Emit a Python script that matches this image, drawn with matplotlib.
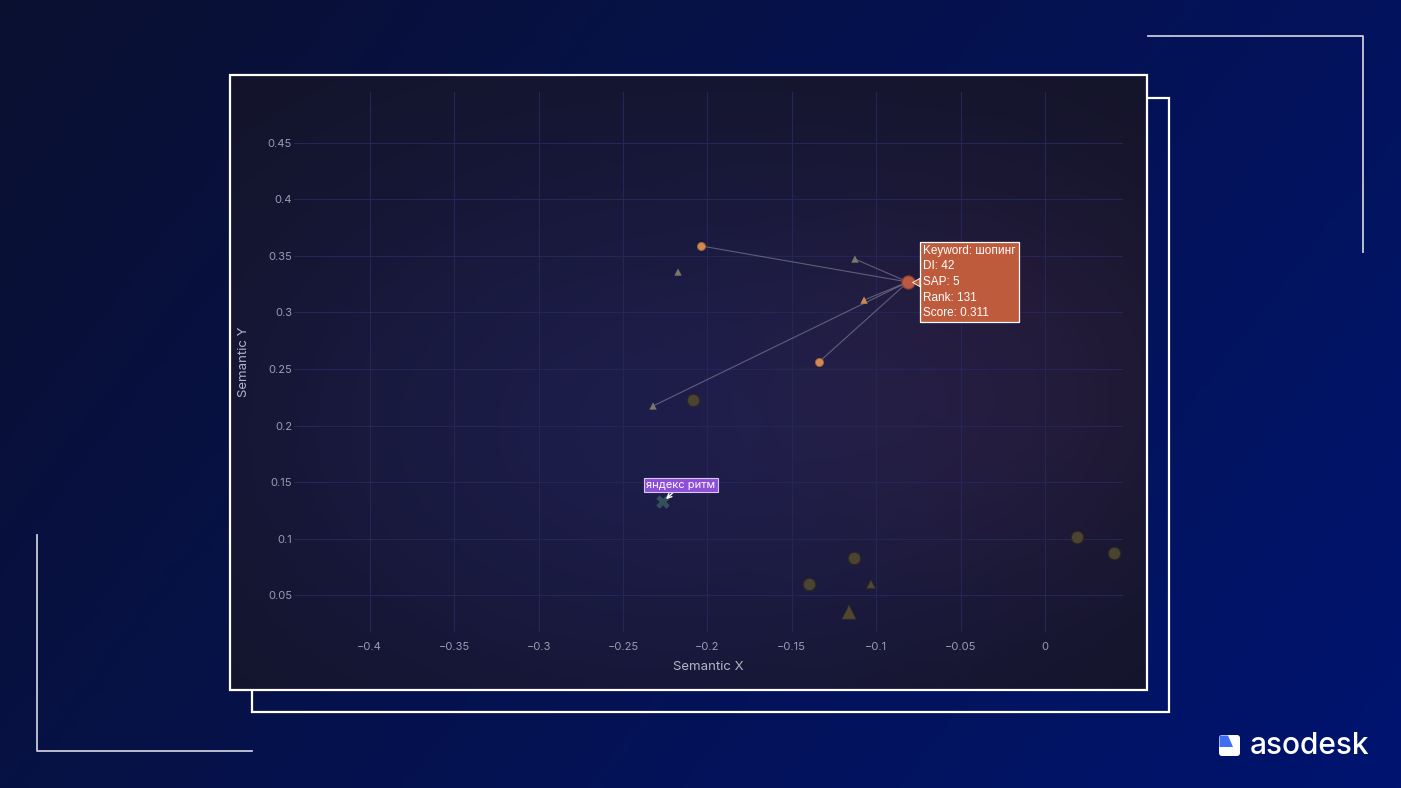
import numpy as np
import matplotlib.pyplot as plt
from matplotlib.patches import Rectangle, FancyBboxPatch, Polygon
from matplotlib.ticker import FuncFormatter
from matplotlib.transforms import ScaledTranslation

# highlighted keyword
main_x, main_y = -0.0812, 0.327
tooltip_lines = ["Keyword: шопинг", "DI: 42", "SAP: 5", "Rank: 131", "Score: 0.311"]

# keywords linked to the highlighted one
orange_circ_x = [-0.2038, -0.1339]
orange_circ_y = [0.3589, 0.2562]
orange_tri_x = [-0.1072]
orange_tri_y = [0.311]
grey_tri_x = [-0.2174, -0.1126, -0.2322]
grey_tri_y = [0.3358, 0.3473, 0.2173]
linked_x = [-0.2038, -0.1126, -0.1072, -0.1339, -0.2322]
linked_y = [0.3589, 0.3473, 0.311, 0.2562, 0.2173]

# other (dimmed) keywords
brown_circ_x = [-0.2085, -0.1132, -0.1398, 0.019, 0.0409]
brown_circ_y = [0.2226, 0.0827, 0.0597, 0.1013, 0.0872]
brown_tri_x = [-0.1031, -0.1161]
brown_tri_y = [0.0597, 0.035]
brown_tri_s = [45, 110]

# app label
app_x, app_y = -0.2263, 0.1323
app_label = "яндекс ритм"

xticks = [-0.4, -0.35, -0.3, -0.25, -0.2, -0.15, -0.1, -0.05, 0]
yticks = [0.05, 0.1, 0.15, 0.2, 0.25, 0.3, 0.35, 0.4, 0.45]

W, H = 1401, 788
fig = plt.figure(figsize=(W / 100, H / 100), dpi=100)

# ---- background + decorations (pixel coords) ----
bg = fig.add_axes([0, 0, 1, 1])
bg.set_xlim(0, W)
bg.set_ylim(H, 0)
bg.axis('off')

gx, gy = np.meshgrid(np.linspace(0, 1, 300), np.linspace(0, 1, 170))
t = 0.7 * gx + 0.3 * gy
c0 = np.array([10, 16, 48]) / 255
c1 = np.array([0, 20, 112]) / 255
grad = c0 * (1 - t[..., None]) + c1 * t[..., None]
bg.imshow(grad, extent=(0, W, H, 0), aspect='auto', zorder=0)

# panel behind
bg.add_patch(Rectangle((252, 98), 917, 614, fill=False, ec='white', lw=1.6, zorder=1))

# main panel gradient
px, py = np.meshgrid(np.linspace(230, 1147, 300), np.linspace(75, 690, 200))
base = np.array([18, 19, 40], float)
glow1 = np.exp(-(((px - 650) / 420) ** 2 + ((py - 430) / 300) ** 2))
glow2 = np.exp(-(((px - 1000) / 250) ** 2 + ((py - 380) / 220) ** 2))
panel = (base + glow1[..., None] * np.array([10, 10, 34]) + glow2[..., None] * np.array([14, 5, 6])) / 255
bg.imshow(np.clip(panel, 0, 1), extent=(230, 1147, 690, 75), aspect='auto', zorder=2)
bg.add_patch(Rectangle((230, 75), 917, 615, fill=False, ec='white', lw=1.6, zorder=3))

# corner lines
bg.plot([1148, 1363, 1363], [36, 36, 252], color='#c9cbd8', lw=1.3, zorder=1)
bg.plot([37, 37, 252], [535, 751, 751], color='#c9cbd8', lw=1.3, zorder=1)

# logo
bg.add_patch(FancyBboxPatch((1219, 735), 21, 21, boxstyle='round,pad=0,rounding_size=3',
                            fc='white', ec='none', zorder=3))
bg.add_patch(Polygon([(1219.5, 735.5), (1228, 735.5), (1233, 747), (1219.5, 747)],
                     closed=True, fc='#3f6ef2', ec='none', zorder=4))
bg.text(1250, 746, "asodesk", color='white', fontsize=21.5, family='Inter', weight='medium',
        va='center', ha='left', zorder=4)

# ---- chart ----
ax = fig.add_axes([294 / W, 1 - 632 / H, (1123 - 294) / W, (632 - 92) / H])
ax.patch.set_alpha(0)
ax.set_xlim(-0.4449, 0.0462)
ax.set_ylim(0.0173, 0.4951)
for s in ax.spines.values():
    s.set_visible(False)
ax.set_xticks(xticks)
ax.set_yticks(yticks)
fmt = FuncFormatter(lambda v, p: "{:g}".format(round(v, 2)).replace('-', '\u2212'))
ax.xaxis.set_major_formatter(fmt)
ax.yaxis.set_major_formatter(fmt)
ax.tick_params(length=0, labelsize=8, labelcolor='#9c9db2')
ax.tick_params(axis='x', pad=7)
ax.tick_params(axis='y', pad=1.5)
for lab in ax.get_xticklabels() + ax.get_yticklabels():
    lab.set_family('Inter')
ax.grid(True, color='#262656', lw=0.8, zorder=0)
ax.set_axisbelow(True)
ax.set_xlabel("Semantic X", color='#b4b5c6', fontsize=9.5, family='Inter', labelpad=7)
ax.set_ylabel("Semantic Y", color='#b4b5c6', fontsize=9.5, family='Inter', labelpad=13)

# links
for lx, ly in zip(linked_x, linked_y):
    ax.plot([main_x, lx], [main_y, ly], color='#a0a0b0', alpha=0.5, lw=0.8, zorder=2)

ax.scatter(brown_circ_x, brown_circ_y, s=80, c='#4c4433', edgecolors='#2c281f', lw=0.8, zorder=3)
ax.scatter(brown_tri_x, brown_tri_y, s=brown_tri_s, marker='^', c='#4f4633', edgecolors='#2c281f',
           lw=0.6, zorder=3)
ax.scatter(grey_tri_x, grey_tri_y, s=28, marker='^', c='#7b776a', edgecolors='none', zorder=4)
ax.scatter(orange_tri_x, orange_tri_y, s=28, marker='^', c='#c98a50', edgecolors='none', zorder=4)
ax.scatter(orange_circ_x, orange_circ_y, s=34, c='#d18a52', edgecolors='#9c6234', lw=0.6, zorder=4)
ax.scatter([app_x], [app_y], s=95, marker='X', c='#34505b', edgecolors='none', zorder=4)
ax.scatter([main_x], [main_y], s=90, c='#b85b42', edgecolors='#8a3f2c', lw=0.8, zorder=5)

# tooltip
ax.annotate("\n".join(tooltip_lines), xy=(main_x, main_y), xytext=(15, 0),
            textcoords='offset pixels', ha='left', va='center', color='white', fontsize=8.5,
            family='Liberation Sans', linespacing=1.4, zorder=6,
            bbox=dict(boxstyle='square,pad=0.25', fc='#bf5b3d', ec='white', lw=0.9))
ax.plot([main_x], [main_y], marker=(3, 0, 90), ms=7, color='#bf5b3d', mec='white', mew=0.6, zorder=5.5,
        transform=ax.transData + ScaledTranslation(9.5 / 100, 0, fig.dpi_scale_trans))

# app label
ax.annotate(app_label, xy=(app_x, app_y), xytext=(18, 17), textcoords='offset pixels',
            ha='center', va='center', color='white', fontsize=8, family='Inter', zorder=6,
            bbox=dict(boxstyle='square,pad=0.2', fc='#8d4fd8', ec='#d9c8f5', lw=0.8),
            arrowprops=dict(arrowstyle='->', color='white', lw=1, shrinkA=0, shrinkB=3))

fig.savefig('out.png', dpi=100)
